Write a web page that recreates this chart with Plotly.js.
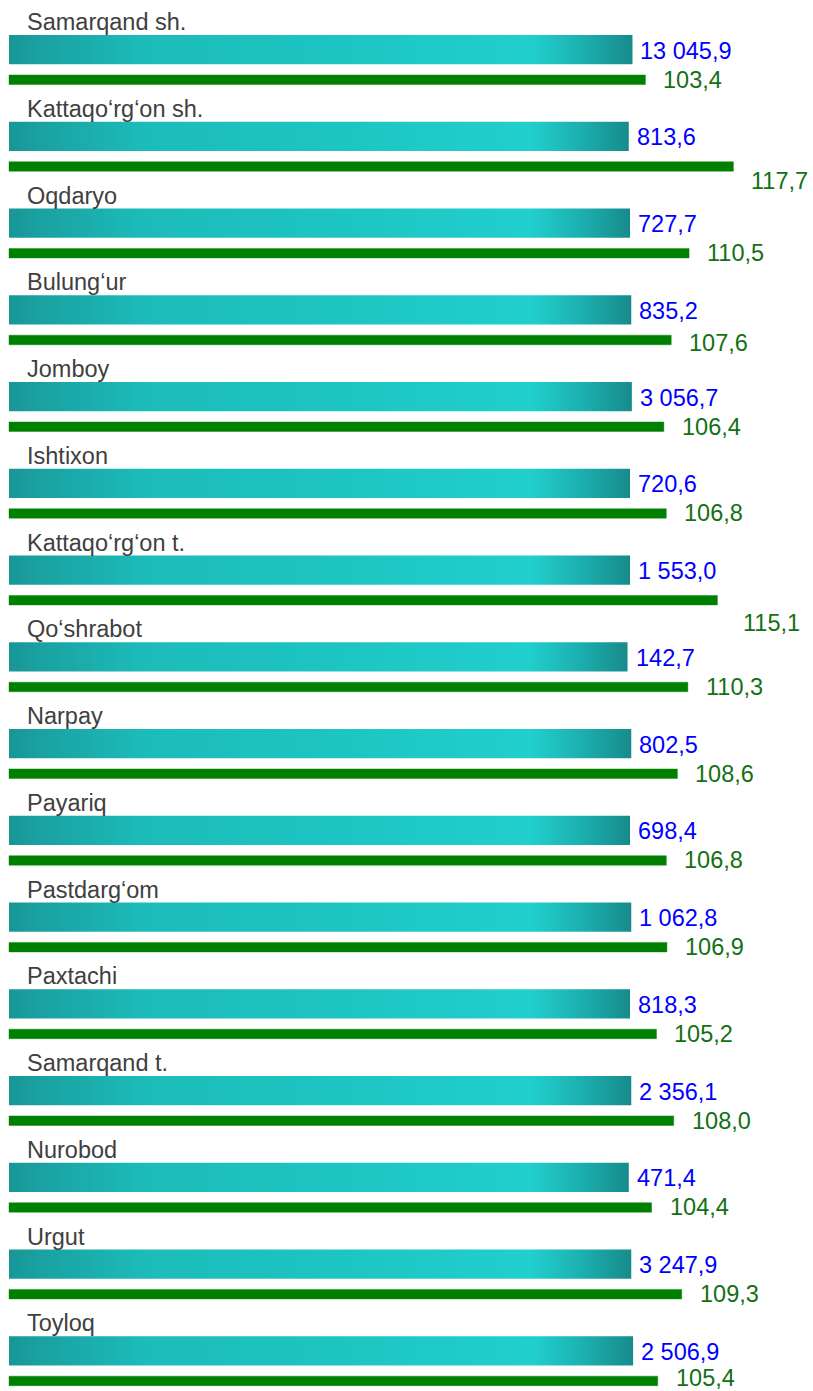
<!DOCTYPE html>
<html>
<head>
<meta charset="utf-8">
<script src="https://cdn.plot.ly/plotly-3.0.1.min.js"></script>
<style>
  html, body { margin: 0; padding: 0; background: #ffffff; overflow: hidden; }
  #chart { width: 813px; height: 1391px; }
</style>
</head>
<body>
<div id="chart"></div>
<script>
// ---- data ----
const categories = ["Samarqand sh.", "Kattaqo‘rg‘on sh.", "Oqdaryo", "Bulung‘ur", "Jomboy",
  "Ishtixon", "Kattaqo‘rg‘on t.", "Qo‘shrabot", "Narpay", "Payariq", "Pastdarg‘om",
  "Paxtachi", "Samarqand t.", "Nurobod", "Urgut", "Toyloq"];
const volume = [13045.9, 813.6, 727.7, 835.2, 3056.7, 720.6, 1553.0, 142.7, 802.5, 698.4,
  1062.8, 818.3, 2356.1, 471.4, 3247.9, 2506.9];
const growth = [103.4, 117.7, 110.5, 107.6, 106.4, 106.8, 115.1, 110.3, 108.6, 106.8,
  106.9, 105.2, 108.0, 104.4, 109.3, 105.4];
// length of the decorative teal band (same scale as growth axis)
const bandLength = [101.3, 100.7, 100.9, 101.1, 101.2, 100.9, 100.9, 100.5, 101.1, 100.9,
  101.1, 100.9, 101.1, 100.7, 101.1, 101.4];

// label nudges (layout only)
const greenLabelNudge = { 1: {dx: 0, dy: 15}, 3: {dx: 0, dy: 3}, 6: {dx: 8, dy: 23}, 15: {dx: 0, dy: -3} };

function fmt(v) {
  const parts = v.toFixed(1).split(".");
  const intPart = parts[0].replace(/\B(?=(\d{3})+(?!\d))/g, " ");
  return intPart + "," + parts[1];
}

const FONT = "Liberation Sans, Arial, sans-serif";
const FS = 23.5;

const traces = [
  {
    type: "bar", orientation: "h", y: categories, x: bandLength,
    width: 0.338, offset: -0.169,
    marker: { color: "#1dc3c0" }, hoverinfo: "skip", name: "band"
  },
  {
    type: "bar", orientation: "h", y: categories, x: growth,
    width: 0.110, offset: 0.292,
    marker: { color: "#008000", line: { color: "rgba(0,128,0,0.4)", width: 1 } },
    hoverinfo: "skip", name: "growth"
  }
];

const annotations = [];
categories.forEach((c, i) => {
  annotations.push({
    xref: "paper", yref: "y", x: 0, y: c, xanchor: "left", yanchor: "middle",
    xshift: 25, yshift: 27.5, text: c, showarrow: false,
    font: { family: FONT, size: FS, color: "#404040" }
  });
  annotations.push({
    xref: "x", yref: "y", x: bandLength[i], y: c, xanchor: "left", yanchor: "middle",
    xshift: 6, yshift: -1, text: fmt(volume[i]), showarrow: false,
    font: { family: FONT, size: FS, color: "#0000ff" }
  });
  const n = greenLabelNudge[i] || {dx: 0, dy: 0};
  annotations.push({
    xref: "x", yref: "y", x: growth[i], y: c, xanchor: "left", yanchor: "middle",
    xshift: 16 + n.dx, yshift: -30 - n.dy, text: fmt(growth[i]), showarrow: false,
    font: { family: FONT, size: FS, color: "#137013" }
  });
});

const layout = {
  width: 813, height: 1391,
  margin: { l: 0, r: 0, t: 0, b: 0, pad: 0 },
  paper_bgcolor: "#ffffff", plot_bgcolor: "#ffffff",
  barmode: "overlay", showlegend: false,
  xaxis: { range: [-1.462, 130.63], visible: false, fixedrange: true },
  yaxis: { type: "category", categoryorder: "array", categoryarray: categories,
           range: [15.463, -0.572], visible: false, fixedrange: true },
  annotations: annotations
};

Plotly.newPlot("chart", traces, layout, { staticPlot: true, displayModeBar: false }).then(() => {
  const svg = document.querySelector("#chart .main-svg");
  const NS = "http://www.w3.org/2000/svg";
  let defs = svg.querySelector("defs");
  if (!defs) { defs = document.createElementNS(NS, "defs"); svg.insertBefore(defs, svg.firstChild); }
  const grad = document.createElementNS(NS, "linearGradient");
  grad.setAttribute("id", "tealGrad");
  grad.setAttribute("x1", "0"); grad.setAttribute("y1", "0");
  grad.setAttribute("x2", "1"); grad.setAttribute("y2", "0");
  const stops = [[0, "#189696"], [0.05, "#1aa1a1"], [0.22, "#1cbcba"], [0.5, "#1dc4c1"],
                 [0.84, "#21cfcd"], [0.92, "#1cb0b0"], [1, "#178b8b"]];
  stops.forEach(s => {
    const st = document.createElementNS(NS, "stop");
    st.setAttribute("offset", s[0]);
    st.setAttribute("stop-color", s[1]);
    grad.appendChild(st);
  });
  defs.appendChild(grad);
  const bandTrace = document.querySelectorAll("#chart .barlayer .trace")[0];
  if (bandTrace) {
    bandTrace.querySelectorAll("path").forEach(p => { p.style.fill = "url(#tealGrad)"; });
  }
});
</script>
</body>
</html>
